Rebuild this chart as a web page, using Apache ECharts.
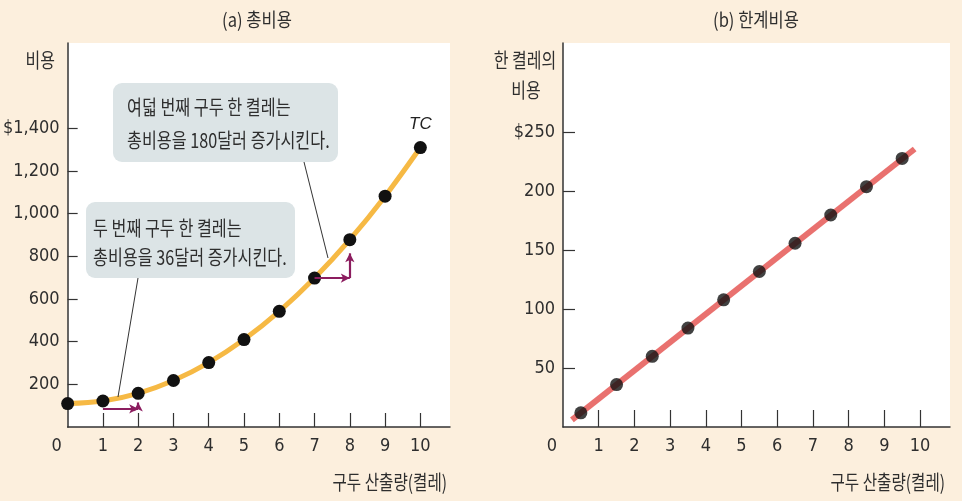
<!DOCTYPE html>
<html>
<head>
<meta charset="utf-8">
<script src="https://cdn.jsdelivr.net/npm/echarts@6/dist/echarts.min.js"></script>
<style>
html,body{margin:0;padding:0;background:#fcefdd;}
#chart{width:962px;height:501px;}
</style>
</head>
<body>
<div id="chart"></div>
<script>
// ---- data ----
const quantity = [0, 1, 2, 3, 4, 5, 6, 7, 8, 9, 10];
const totalCost = [110, 122, 158, 218, 302, 410, 542, 698, 878, 1082, 1310];
const mcQuantity = [0.5, 1.5, 2.5, 3.5, 4.5, 5.5, 6.5, 7.5, 8.5, 9.5];
const marginalCost = [12, 36, 60, 84, 108, 132, 156, 180, 204, 228];
const mcLineQ = [0.25, 9.85];
const mcLineV = [6, 236];
const xTicks = [0, 1, 2, 3, 4, 5, 6, 7, 8, 9, 10];
const tcTicks = [200, 400, 600, 800, 1000, 1200, 1400];
const mcTicks = [50, 100, 150, 200, 250];
const arrowLowH = [[1, 85], [2, 85]];
const arrowLowV = [[2, 85], [2, 115]];
const arrowHighH = [[7, 698], [8, 698]];
const arrowHighV = [[8, 698], [8, 814]];

const NUM_FONT = "'Liberation Sans Narrow','DejaVu Sans Condensed','Noto Sans CJK KR',sans-serif";
const KR_FONT = "'Noto Sans CJK KR',sans-serif";
const TXT = '#2e2e2e';

const chart = echarts.init(document.getElementById('chart'));

function xAxisCfg(idx, tickLen) {
  return {
    type: 'value', gridIndex: idx, min: 0, max: 10.84,
    axisLine: {show: true, lineStyle: {color: '#333', width: 1.5}},
    axisTick: {show: true, inside: true, length: tickLen, customValues: xTicks.slice(1), lineStyle: {color: '#333', width: 1.2}},
    axisLabel: {
      customValues: xTicks, margin: 10, color: TXT, fontFamily: NUM_FONT, fontSize: 18,
      formatter: v => v === 0 ? '{z|0}' : String(v),
      rich: {z: {fontFamily: NUM_FONT, fontSize: 18, color: TXT, padding: [0, 22, 0, 0]}}
    },
    splitLine: {show: false}
  };
}
function yAxisCfg(idx, max, ticks, tickLen, fmt) {
  return {
    type: 'value', gridIndex: idx, min: 0, max: max,
    axisLine: {show: true, lineStyle: {color: '#333', width: 1.5}},
    axisTick: {show: true, inside: true, length: tickLen, customValues: ticks, lineStyle: {color: '#333', width: 1.2}},
    axisLabel: {customValues: ticks, margin: 8, color: TXT, fontFamily: NUM_FONT, fontSize: 18, formatter: fmt},
    splitLine: {show: false}
  };
}

const arrowStyle = {color: '#8c1d5f', width: 2.2, type: 'solid'};

function krText(x, y, text, align, size, sx, z) {
  return {type: 'text', x: x, y: y, scaleX: sx, z: z || 11,
    style: {text: text, font: size + 'px ' + KR_FONT, fill: TXT, textAlign: align, textVerticalAlign: 'middle'}};
}

const option = {
  backgroundColor: '#fcefdd',
  animation: false,
  grid: [
    {left: 63, top: 43, width: 387, height: 384, show: true, backgroundColor: '#ffffff', borderWidth: 0},
    {left: 563, top: 43, width: 387, height: 384, show: true, backgroundColor: '#ffffff', borderWidth: 0}
  ],
  xAxis: [xAxisCfg(0, 14), xAxisCfg(1, 17)],
  yAxis: [
    yAxisCfg(0, 1800, tcTicks, 10, v => (v === 1400 ? '$' : '') + v.toLocaleString('en-US')),
    yAxisCfg(1, 326, mcTicks, 12, v => (v === 250 ? '$' : '') + v)
  ],
  series: [
    {
      type: 'line', xAxisIndex: 0, yAxisIndex: 0, smooth: 0.35, clip: false,
      data: quantity.map((q, i) => i === quantity.length - 1 ? {
        value: [q, totalCost[i]],
        label: {show: true, position: 'top', distance: 8, formatter: 'TC', fontStyle: 'italic', fontFamily: "'Liberation Sans',sans-serif", fontSize: 17, color: '#222'}
      } : [q, totalCost[i]]),
      lineStyle: {color: '#f6b944', width: 5},
      symbol: 'circle', symbolSize: 13,
      itemStyle: {color: '#111111', borderWidth: 0},
      z: 3,
      markLine: {
        silent: true, symbol: ['none', 'arrow'], symbolSize: [7, 9], label: {show: false},
        lineStyle: arrowStyle,
        data: [
          [{coord: arrowLowH[0]}, {coord: arrowLowH[1]}],
          [{coord: arrowLowV[0]}, {coord: arrowLowV[1]}],
          [{coord: arrowHighH[0]}, {coord: arrowHighH[1]}],
          [{coord: arrowHighV[0]}, {coord: arrowHighV[1]}]
        ]
      }
    },
    {
      type: 'line', xAxisIndex: 1, yAxisIndex: 1, clip: false,
      data: mcLineQ.map((q, i) => i === mcLineQ.length - 1 ? {
        value: [q, mcLineV[i]],
        label: {show: true, position: 'top', distance: 6, formatter: 'MC', fontStyle: 'italic', fontFamily: "'Liberation Sans',sans-serif", fontSize: 17, color: '#222'}
      } : [q, mcLineV[i]]),
      lineStyle: {color: '#e9716f', width: 6},
      symbol: 'none', showSymbol: false, z: 2
    },
    {
      type: 'scatter', xAxisIndex: 1, yAxisIndex: 1, clip: false,
      data: mcQuantity.map((q, i) => [q, marginalCost[i]]),
      symbol: 'circle', symbolSize: 13,
      itemStyle: {color: '#111111'}, z: 3
    }
  ],
  graphic: [
    // panel titles
    krText(257, 20, '(a) 총비용', 'center', 19, 0.87),
    krText(756, 20, '(b) 한계비용', 'center', 19, 0.87),
    // axis names
    krText(55, 60, '비용', 'right', 20, 0.8),
    krText(525, 60, '한 켤레의', 'center', 20, 0.8),
    krText(526, 90, '비용', 'center', 20, 0.8),
    krText(447, 482, '구두 산출량(켤레)', 'right', 20, 0.78),
    krText(945, 482, '구두 산출량(켤레)', 'right', 20, 0.78),
    // annotation boxes
    {type: 'rect', shape: {x: 113, y: 83, width: 225, height: 79, r: 9}, style: {fill: '#dce4e6'}, z: 10},
    krText(127, 107, '여덟 번째 구두 한 켤레는', 'left', 20, 0.81),
    krText(127, 140, '총비용을 180달러 증가시킨다.', 'left', 20, 0.81),
    {type: 'line', shape: {x1: 304, y1: 162, x2: 328, y2: 258}, style: {stroke: '#333', lineWidth: 1}, z: 10},
    {type: 'rect', shape: {x: 86, y: 202, width: 209, height: 76, r: 9}, style: {fill: '#dce4e6'}, z: 10},
    krText(93, 228, '두 번째 구두 한 켤레는', 'left', 20, 0.81),
    krText(93, 257, '총비용을 36달러 증가시킨다.', 'left', 20, 0.81),
    {type: 'line', shape: {x1: 138, y1: 278, x2: 118, y2: 397}, style: {stroke: '#333', lineWidth: 1}, z: 10}
  ]
};
chart.setOption(option);
</script>
</body>
</html>
